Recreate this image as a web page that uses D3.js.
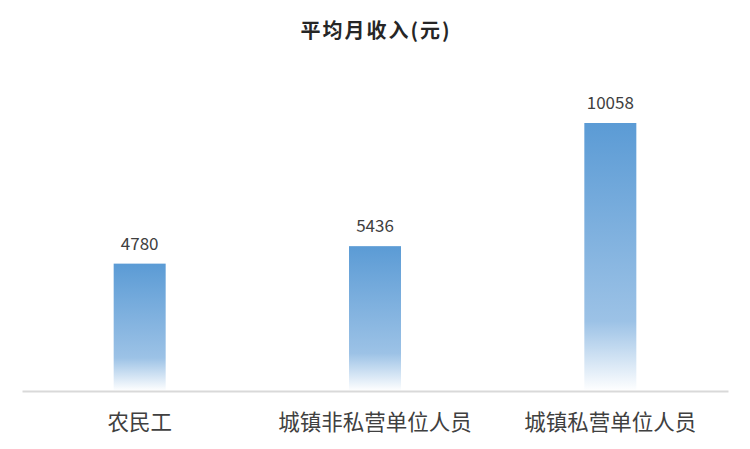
<!DOCTYPE html>
<html><head><meta charset="utf-8">
<script src="https://cdn.jsdelivr.net/npm/d3@7"></script>
<style>body{margin:0;background:#fff}svg{display:block}</style>
</head><body>
<script>
const categories = ["农民工", "城镇非私营单位人员", "城镇私营单位人员"];
const values = [4780, 5436, 10058];
const title = "平均月收入(元)";

const W = 750, H = 449;
const margin = {left: 22, right: 22, top: 0, bottom: 0};
const baseY = 391;
const svg = d3.select("body").append("svg").attr("width", W).attr("height", H);

const defs = svg.append("defs");
const grad = defs.append("linearGradient").attr("id", "g").attr("x1", 0).attr("y1", 0).attr("x2", 0).attr("y2", 1);
grad.append("stop").attr("offset", "0%").attr("stop-color", "#5b9bd5");
grad.append("stop").attr("offset", "74%").attr("stop-color", "#9cc2e6");
grad.append("stop").attr("offset", "100%").attr("stop-color", "#ffffff");

const x = d3.scaleBand().domain(categories).range([margin.left, W - margin.right]).paddingInner(0).paddingOuter(0);
const y = d3.scaleLinear().domain([0, 10058]).range([baseY, 123]);
const bw = 52;

const font = "'Noto Sans CJK SC', 'Noto Sans', sans-serif";

svg.append("text").attr("x", W/2 + 1).attr("y", 38).attr("text-anchor", "middle")
  .attr("font-family", font).attr("font-weight", "bold").attr("font-size", 20).attr("letter-spacing", 2).attr("fill", "#262626").text(title);

svg.selectAll("rect.bar").data(values).join("rect").attr("class", "bar")
  .attr("x", (d, i) => x(categories[i]) + x.bandwidth()/2 - bw/2)
  .attr("y", d => y(d)).attr("width", bw).attr("height", d => baseY - y(d))
  .attr("fill", "url(#g)");

svg.selectAll("text.val").data(values).join("text").attr("class", "val")
  .attr("x", (d, i) => x(categories[i]) + x.bandwidth()/2)
  .attr("y", d => y(d) - 14).attr("text-anchor", "middle")
  .attr("font-family", font).attr("font-size", 17).attr("fill", "#404040").text(d => d);

const axis = d3.axisBottom(x).tickSize(0).tickPadding(0);
const g = svg.append("g").attr("transform", `translate(0,${baseY})`).call(axis);
g.select(".domain").attr("stroke", "#d9d9d9").attr("stroke-width", 2);
g.selectAll(".tick text").attr("font-family", font).attr("font-size", 21.5).attr("fill", "#404040")
  .attr("y", 39).attr("dy", null);
</script>
</body></html>
